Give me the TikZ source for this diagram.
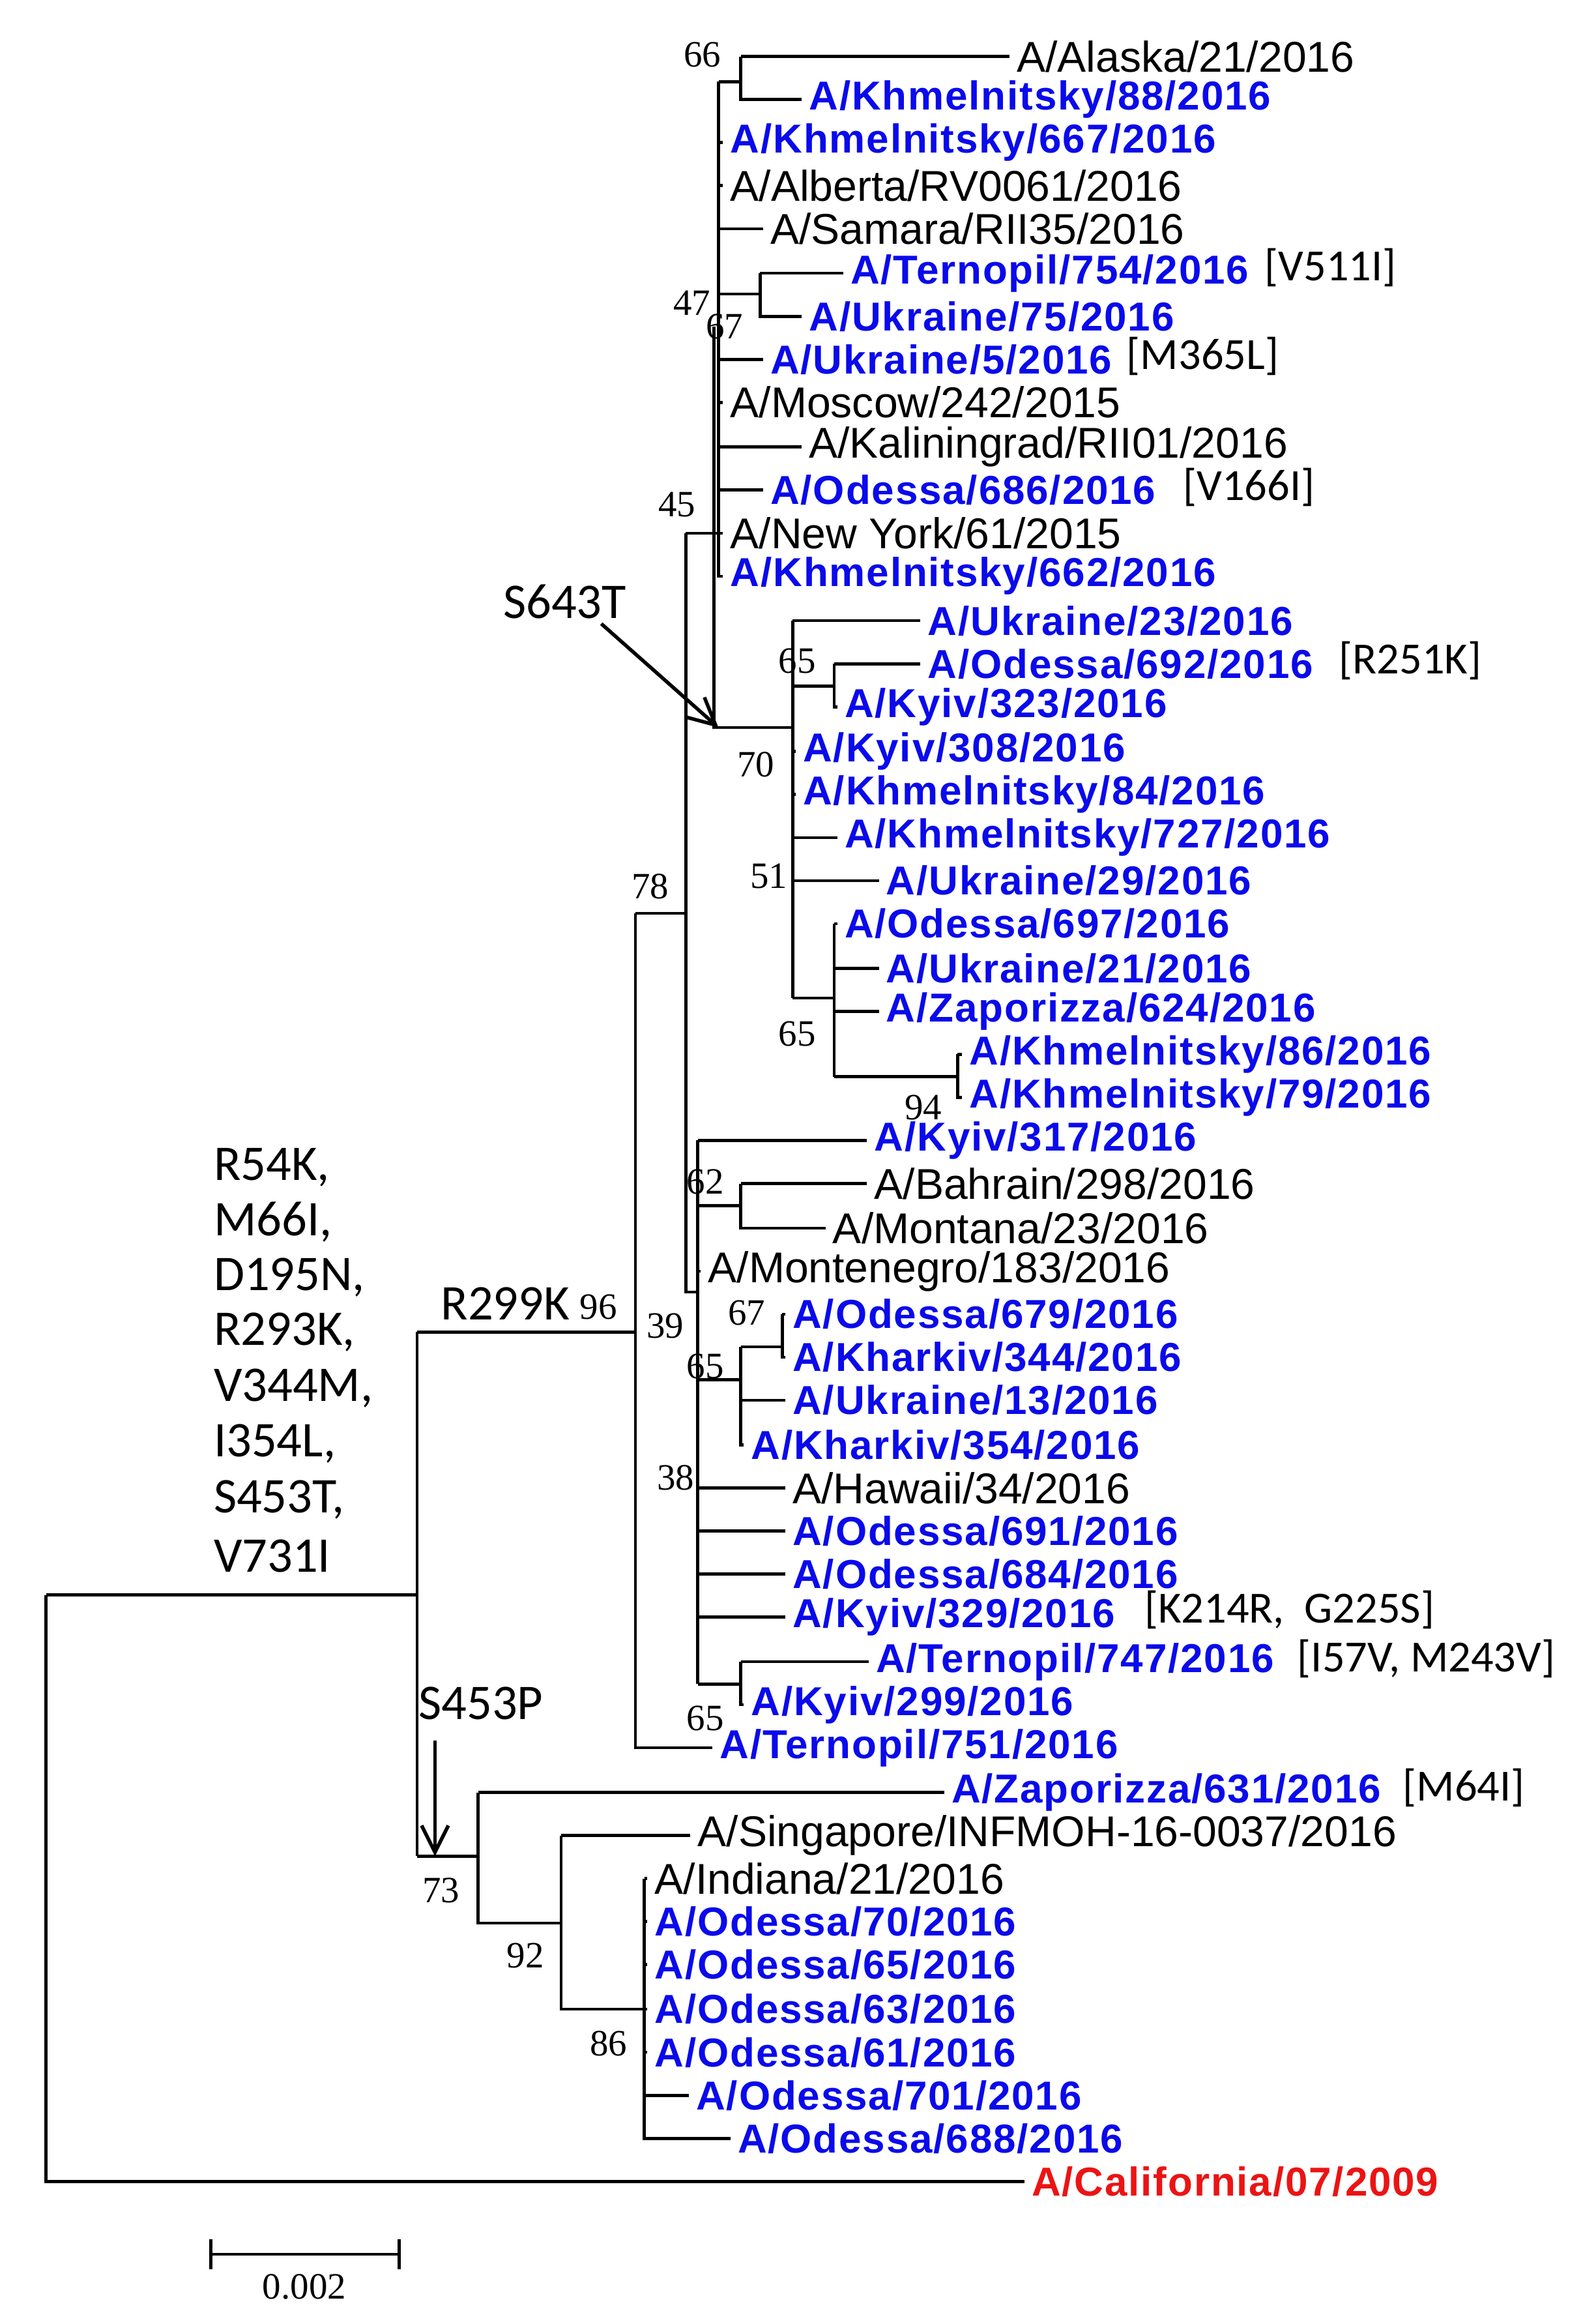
\documentclass[tikz,border=0pt]{standalone}
\usepackage{fontspec}
\usetikzlibrary{arrows.meta}
\setmainfont{Liberation Sans}
\newfontfamily\myCal{Carlito}
\newfontfamily\myTms{Liberation Serif}
\definecolor{lb}{RGB}{10,10,235}
\definecolor{lr}{RGB}{235,20,20}
\begin{document}
\begin{tikzpicture}[x=0.5pt,y=-0.5pt,line width=1pt,
 lf/.style={anchor=west,inner xsep=2pt,inner ysep=0pt,font=\fontsize{14.5}{16}\selectfont},
 bl/.style={lf,text=lb,font=\fontsize{13.6}{16}\selectfont\bfseries\addfontfeature{LetterSpace=3}},
 rd/.style={lf,text=lr,font=\fontsize{13.6}{16}\selectfont\bfseries\addfontfeature{LetterSpace=3}},
 mu/.style={anchor=west,inner sep=0pt,font=\fontsize{15}{17}\selectfont\myCal},
 bs/.style={inner sep=0pt,font=\fontsize{12.5}{14}\selectfont\myTms},
 mt/.style={anchor=west,inner sep=0pt,font=\fontsize{16.8}{19}\selectfont\myCal}]
\useasboundingbox (0,0) rectangle (1066,1565);
\newcommand\lfx[5]{\node[#4] (#1) at (#2,#3) {#5};}
% leaves
\lfx{a1}{680}{38}{lf}{A/Alaska/21/2016}
\lfx{a2}{540}{67}{bl}{A/Khmelnitsky/88/2016}
\lfx{a3}{487}{96}{bl}{A/Khmelnitsky/667/2016}
\lfx{a4}{487}{125}{lf}{A/Alberta/RV0061/2016}
\lfx{a5}{514}{154}{lf}{A/Samara/RII35/2016}
\lfx{a6}{568}{184}{bl}{A/Ternopil/754/2016}
\lfx{a7}{540}{213}{bl}{A/Ukraine/75/2016}
\lfx{a8}{514}{242}{bl}{A/Ukraine/5/2016}
\lfx{a9}{487}{271}{lf}{A/Moscow/242/2015}
\lfx{a10}{540}{301}{lf}{A/Kaliningrad/RII01/2016}
\lfx{a11}{514}{330}{bl}{A/Odessa/686/2016}
\lfx{a12}{487}{359}{lf}{A/New York/61/2015}
\lfx{a13}{487}{388}{bl}{A/Khmelnitsky/662/2016}
\lfx{a14}{620}{418}{bl}{A/Ukraine/23/2016}
\lfx{a15}{620}{447}{bl}{A/Odessa/692/2016}
\lfx{a16}{564}{476}{bl}{A/Kyiv/323/2016}
\lfx{a17}{536}{506}{bl}{A/Kyiv/308/2016}
\lfx{a18}{536}{535}{bl}{A/Khmelnitsky/84/2016}
\lfx{a19}{564}{564}{bl}{A/Khmelnitsky/727/2016}
\lfx{a20}{592}{593}{bl}{A/Ukraine/29/2016}
\lfx{a21}{564}{622}{bl}{A/Odessa/697/2016}
\lfx{a22}{592}{652}{bl}{A/Ukraine/21/2016}
\lfx{a23}{592}{681}{bl}{A/Zaporizza/624/2016}
\lfx{a24}{648}{710}{bl}{A/Khmelnitsky/86/2016}
\lfx{a25}{648}{739}{bl}{A/Khmelnitsky/79/2016}
\lfx{a26}{584}{768}{bl}{A/Kyiv/317/2016}
\lfx{a27}{584}{797}{lf}{A/Bahrain/298/2016}
\lfx{a28}{556}{827}{lf}{A/Montana/23/2016}
\lfx{a29}{472}{856}{lf}{A/Montenegro/183/2016}
\lfx{a30}{529}{885}{bl}{A/Odessa/679/2016}
\lfx{a31}{529}{914}{bl}{A/Kharkiv/344/2016}
\lfx{a32}{529}{943}{bl}{A/Ukraine/13/2016}
\lfx{a33}{501}{973}{bl}{A/Kharkiv/354/2016}
\lfx{a34}{529}{1002}{lf}{A/Hawaii/34/2016}
\lfx{a35}{529}{1031}{bl}{A/Odessa/691/2016}
\lfx{a36}{529}{1060}{bl}{A/Odessa/684/2016}
\lfx{a37}{529}{1089}{bl}{A/Kyiv/329/2016}
\lfx{a38}{585}{1119}{bl}{A/Ternopil/747/2016}
\lfx{a39}{501}{1148}{bl}{A/Kyiv/299/2016}
\lfx{a40}{480}{1177}{bl}{A/Ternopil/751/2016}
\lfx{a41}{636}{1207}{bl}{A/Zaporizza/631/2016}
\lfx{a42}{465}{1236}{lf}{A/Singapore/INFMOH-16-0037/2016}
\lfx{a43}{436}{1265}{lf}{A/Indiana/21/2016}
\lfx{a44}{436}{1294}{bl}{A/Odessa/70/2016}
\lfx{a45}{436}{1323}{bl}{A/Odessa/65/2016}
\lfx{a46}{436}{1353}{bl}{A/Odessa/63/2016}
\lfx{a47}{436}{1382}{bl}{A/Odessa/61/2016}
\lfx{a48}{464}{1411}{bl}{A/Odessa/701/2016}
\lfx{a49}{492}{1440}{bl}{A/Odessa/688/2016}
\lfx{a50}{690}{1469}{rd}{A/California/07/2009}
% annotations
\node[mu] (m1) at (851,180) {[V511I]};
\node[mu] (m2) at (758,240) {[M365L]};
\node[mu] (m3) at (796,328) {[V166I]};
\node[mu] (m4) at (901,445) {[R251K]};
\node[mu] (m5) at (770,1084) {[K214R,\ \ G225S]};
\node[mu] (m6) at (873,1117) {[I57V,\ M243V]};
\node[mu] (m7) at (944,1204) {[M64I]};
% root
\draw (31,1074) |- (a50.west);
\draw (31,1074) -- (281,1074);
\draw (281,897) -- (281,1250);
\draw (281,897) -- (428,897);
\draw (428,615) |- (a40.west);
\draw (428,615) -- (462,615);
\draw (462,359) -- (462,870) -- (470,870);
\draw (462,359) -- (484,359);
% upper polytomy
\draw (484,55) -- (484,388) -- (a13.west);
\draw (484,55) -- (499,55);
\draw (499,38) |- (a2.west); \draw (499,38) -- (a1.west);
\draw (484,96) -- (a3.west);
\draw (484,125) -- (a4.west);
\draw (484,154) -- (a5.west);
\draw (484,198) -- (512,198);
\draw (512,184) |- (a7.west); \draw (512,184) -- (a6.west);
\draw (484,242) -- (a8.west);
\draw (484,271) -- (a9.west);
\draw (484,301) -- (a10.west);
\draw (484,330) -- (a11.west);
\draw (484,359) -- (a12.west);
% node 70
\draw (481,220) -- (481,490) -- (534,490);
\draw (534,418) -- (534,672);
\draw (534,418) -- (a14.west);
\draw (534,462) -- (562,462);
\draw (562,447) |- (a16.west); \draw (562,447) -- (a15.west);
\draw (534,506) -- (a17.west);
\draw (534,535) -- (a18.west);
\draw (534,564) -- (a19.west);
\draw (534,593) -- (a20.west);
\draw (534,672) -- (562,672);
\draw (562,622) -- (562,725);
\draw (562,622) -- (a21.west);
\draw (562,652) -- (a22.west);
\draw (562,681) -- (a23.west);
\draw (562,725) -- (645,725);
\draw (645,710) |- (a25.west); \draw (645,710) -- (a24.west);
% node 39
\draw (470,768) -- (470,1134);
\draw (470,768) -- (a26.west);
\draw (470,812) -- (499,812);
\draw (499,797) |- (a28.west); \draw (499,797) -- (a27.west);
\draw (470,856) -- (a29.west);
\draw (470,929) -- (499,929);
\draw (499,907) |- (a33.west);
\draw (499,907) -- (527,907);
\draw (527,885) |- (a31.west); \draw (527,885) -- (a30.west);
\draw (499,943) -- (a32.west);
\draw (470,1002) -- (a34.west);
\draw (470,1031) -- (a35.west);
\draw (470,1060) -- (a36.west);
\draw (470,1089) -- (a37.west);
\draw (470,1134) -- (499,1134);
\draw (499,1119) |- (a39.west); \draw (499,1119) -- (a38.west);
% lower group
\draw (281,1250) -- (322,1250);
\draw (322,1207) |- (378,1295); \draw (322,1207) -- (a41.west);
\draw (378,1236) |- (434,1353); \draw (378,1236) -- (a42.west);
\draw (434,1265) |- (a49.west); \draw (434,1265) -- (a43.west);
\draw (434,1294) -- (a44.west);
\draw (434,1323) -- (a45.west);
\draw (434,1353) -- (a46.west);
\draw (434,1382) -- (a47.west);
\draw (434,1411) -- (a48.west);
% bootstrap
\foreach \t/\x/\y in {66/473/37,47/466/204,67/488/220,45/456/340,65/537/445,70/509/515,51/518/590,65/537/696,94/622/746,78/438/597,62/475/796,39/448/893,67/503/884,65/475/920,38/455/995,65/475/1157,96/403/880,73/297/1273,92/354/1317,86/410/1376}
  \node[bs] at (\x,\y) {\t};
% mutations
\node[mt] (r1) at (143,786) {R54K,};
\node[mt] (r2) at (143,823) {M66I,};
\node[mt] (r3) at (143,860) {D195N,};
\node[mt] (r4) at (143,897) {R293K,};
\node[mt] (r5) at (143,935) {V344M,};
\node[mt] (r6) at (143,972) {I354L,};
\node[mt] (r7) at (143,1010) {S453T,};
\node[mt] (r8) at (143,1048) {V731I};
\node[mt] (r299) at (296,878) {R299K};
\node[mt] (s643) at (338,405) {S643T};
\node[mt] (s453) at (281,1147) {S453P};
\coordinate (t1) at (484,490);
\coordinate (t2) at (293,1250);
\coordinate (f1) at (405,420);
\coordinate (f2) at (293,1172);
\draw[-{Straight Barb[length=9pt,width=9pt]},line width=1.2pt] (f1) -- (t1);
\draw[-{Straight Barb[length=9pt,width=9pt]},line width=1.2pt] (f2) -- (t2);
% scale bar
\coordinate (sb1) at (142,1518); \coordinate (sb2) at (269,1518);
\draw (sb1) -- (sb2);
\draw ([yshift=-5pt]sb1) -- ([yshift=5pt]sb1);
\draw ([yshift=-5pt]sb2) -- ([yshift=5pt]sb2);
\node[bs] at (205,1540) {0.002};
\end{tikzpicture}
\end{document}
